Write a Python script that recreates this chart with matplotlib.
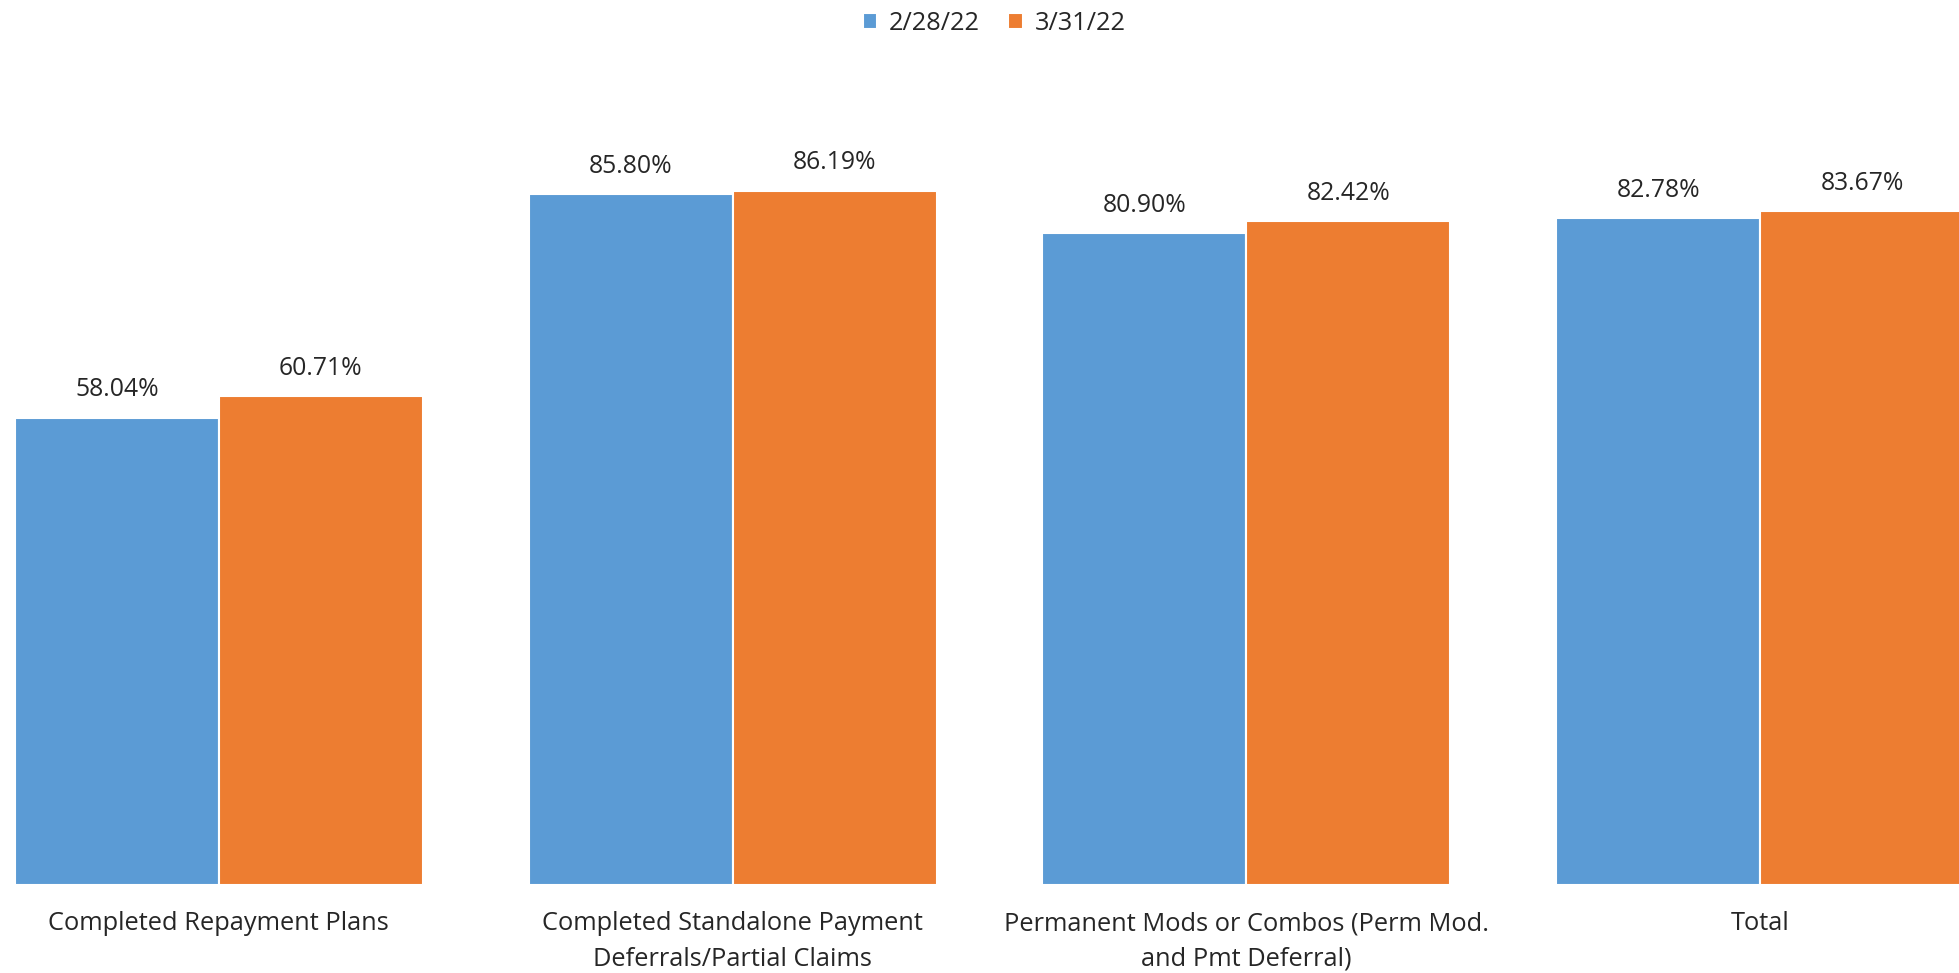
import matplotlib
matplotlib.use("Agg")
import matplotlib.pyplot as plt
import numpy as np

categories = [
    "Completed Repayment Plans",
    "Completed Standalone Payment\nDeferrals/Partial Claims",
    "Permanent Mods or Combos (Perm Mod.\nand Pmt Deferral)",
    "Total",
]
series_names = ["2/28/22", "3/31/22"]
values_feb = [58.04, 85.80, 80.90, 82.78]
values_mar = [60.71, 86.19, 82.42, 83.67]
colors = ["#5B9BD5", "#ED7D31"]

plt.rcParams["font.family"] = ["Open Sans", "DejaVu Sans"]

fig = plt.figure(figsize=(19.59, 9.73), dpi=100)
ax = fig.add_axes([0.0, 0.0904, 1.0, 0.8279])

x = np.arange(len(categories))
w = 0.397
bars1 = ax.bar(x - w / 2, values_feb, w, color=colors[0], edgecolor="white",
               linewidth=1.5, label=series_names[0])
bars2 = ax.bar(x + w / 2, values_mar, w, color=colors[1], edgecolor="white",
               linewidth=1.5, label=series_names[1])

for bars, vals in ((bars1, values_feb), (bars2, values_mar)):
    for b, v in zip(bars, vals):
        ax.annotate(f"{v:.2f}%", (b.get_x() + b.get_width() / 2, v),
                    xytext=(0, 11), textcoords="offset points",
                    ha="center", va="bottom", fontsize=17.8, color="#262626")

ax.set_xlim(-0.4258, 3.387)
ax.set_ylim(0, 100)
ax.set_xticks(x)
ax.set_xticklabels(categories, fontsize=18.3, color="#262626", linespacing=1.55)
ax.tick_params(axis="x", length=0, pad=19)
ax.set_yticks([])
for s in ("top", "right", "left", "bottom"):
    ax.spines[s].set_visible(False)

fig.legend(handles=[bars1, bars2], labels=series_names, loc="upper center",
           bbox_to_anchor=(0.5074, 1.012), ncol=2, frameon=False, fontsize=18.3,
           handlelength=0.58, handleheight=0.58, handletextpad=0.45,
           columnspacing=1.12, labelcolor="#262626")

fig.savefig("out.png", dpi=100, facecolor="white")
